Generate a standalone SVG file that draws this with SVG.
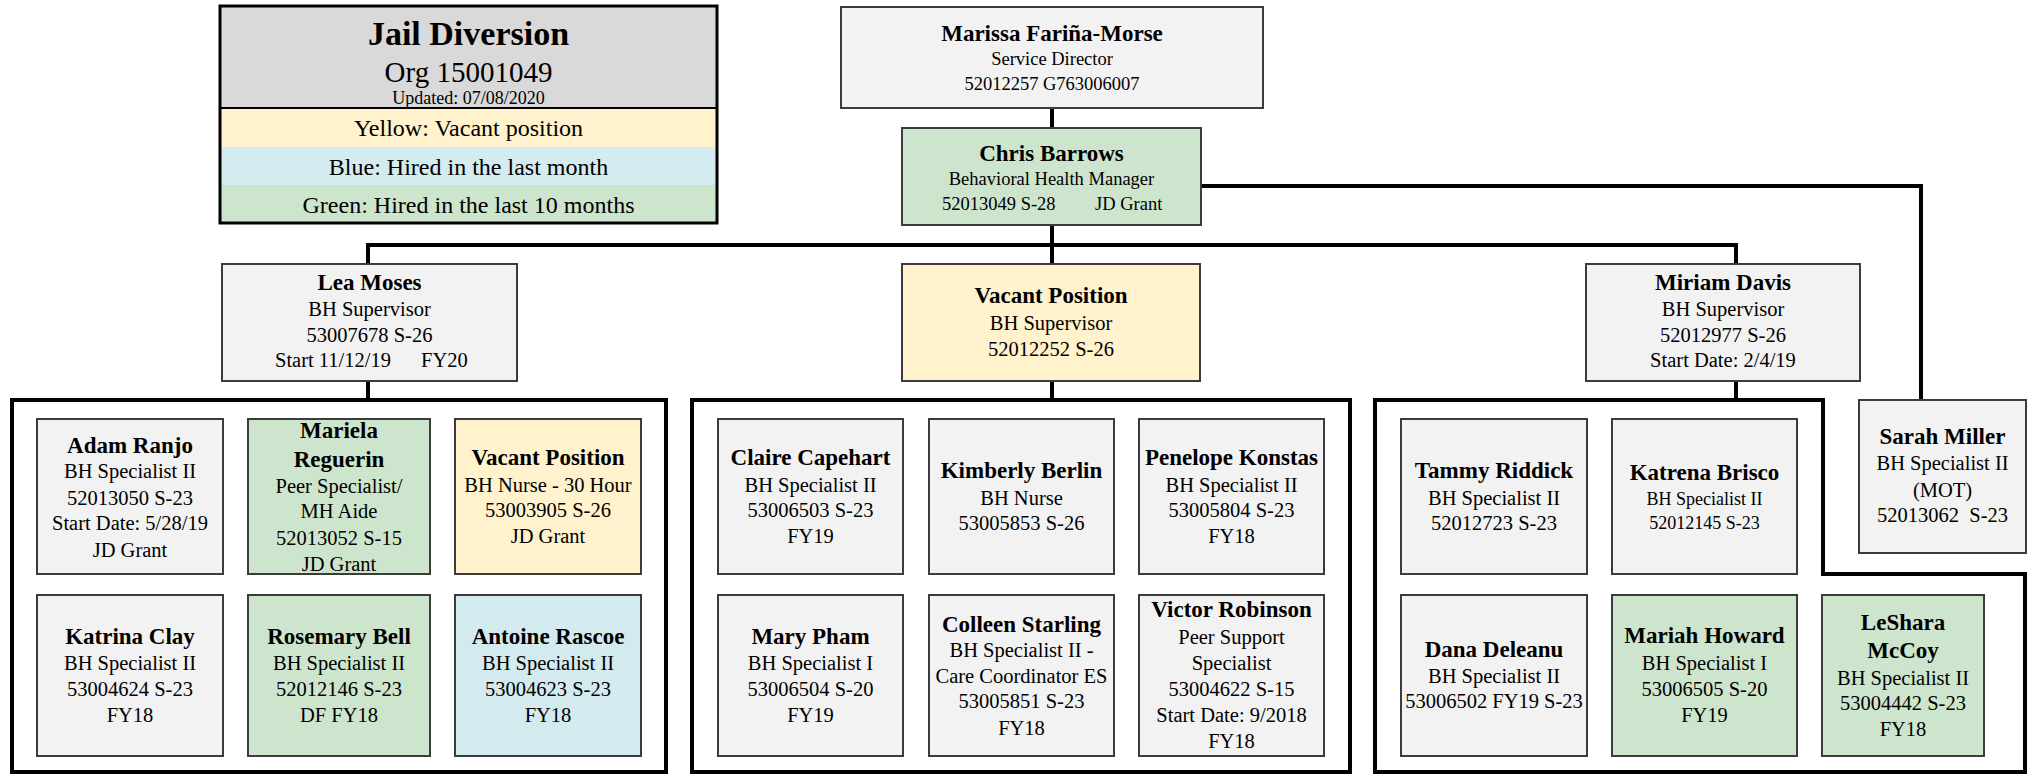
<svg xmlns="http://www.w3.org/2000/svg" width="2030" height="775" viewBox="0 0 2030 775">
<style>
text{font-family:"Liberation Serif","Times New Roman",serif;fill:#000;text-anchor:middle}
.n{font-weight:bold;font-size:23px}
.t{font-size:20.5px}
.s{font-size:18.5px}
.st{text-anchor:start}
.box{stroke:#3c3c3c;stroke-width:2}
.gray{fill:#f2f2f2}.green{fill:#cde5cc}.yellow{fill:#fff2cc}.blue{fill:#d3eaee}
.grp{fill:none;stroke:#000;stroke-width:4}
.conn{fill:none;stroke:#000;stroke-width:4}
</style>
<rect width="2030" height="775" fill="#fff"/>

<g id="legend">
<rect x="220" y="6" width="497" height="102" fill="#d9d9d9"/>
<rect x="220" y="108" width="497" height="39" fill="#fff2cc"/>
<rect x="220" y="147" width="497" height="38" fill="#d4ebef"/>
<rect x="220" y="185" width="497" height="38" fill="#cde5cc"/>
<line x1="220" y1="108" x2="717" y2="108" stroke="#000" stroke-width="2"/>
<rect x="220" y="6" width="497" height="217" fill="none" stroke="#000" stroke-width="3"/>
<text x="468.5" y="45" style="font-weight:bold;font-size:34px">Jail Diversion</text>
<text x="468.5" y="82" style="font-size:29px">Org 15001049</text>
<text x="468.5" y="104" style="font-size:18px">Updated: 07/08/2020</text>
<text x="468.5" y="136" style="font-size:24px">Yellow: Vacant position</text>
<text x="468.5" y="175" style="font-size:24px">Blue: Hired in the last month</text>
<text x="468.5" y="213" style="font-size:24px">Green: Hired in the last 10 months</text>
</g>

<g id="connectors">
<path class="conn" d="M1052 108V128"/>
<path class="conn" d="M1052 225V245"/>
<path class="conn" d="M368 264V245H1736V264"/>
<path class="conn" d="M1052 245V264"/>
<path class="conn" d="M1201 186H1921V400"/>
<path class="conn" d="M368 381V400"/>
<path class="conn" d="M1052 381V400"/>
<path class="conn" d="M1736 381V400"/>
<rect class="grp" x="12" y="400" width="654" height="372"/>
<rect class="grp" x="692" y="400" width="658" height="372"/>
<path class="grp" d="M1375 400H1823V574H2025V772H1375Z"/>
</g>

<g id="marissa">
<rect class="box gray" x="841" y="7" width="422" height="101"/>
<text class="n" x="1052" y="41">Marissa Fariña-Morse</text>
<text class="s" x="1052" y="65">Service Director</text>
<text class="s" x="1052" y="90">52012257 G763006007</text>
</g>

<g id="chris">
<rect class="box green" x="902" y="128" width="299" height="97"/>
<text class="n" x="1051.5" y="161">Chris Barrows</text>
<text class="s" x="1051.5" y="185">Behavioral Health Manager</text>
<text class="s st" x="942" y="210">52013049 S-28</text>
<text class="s st" x="1095" y="210">JD Grant</text>
</g>

<g id="lea">
<rect class="box gray" x="222" y="264" width="295" height="117"/>
<text class="n" x="369.5" y="290">Lea Moses</text>
<text class="t" x="369.5" y="316">BH Supervisor</text>
<text class="t" x="369.5" y="342">53007678 S-26</text>
<text class="t st" x="275" y="367">Start 11/12/19</text>
<text class="t st" x="421" y="367">FY20</text>
</g>

<g id="vacant-supervisor">
<rect class="box yellow" x="902" y="264" width="298" height="117"/>
<text class="n" x="1051" y="303">Vacant Position</text>
<text class="t" x="1051" y="330">BH Supervisor</text>
<text class="t" x="1051" y="356">52012252 S-26</text>
</g>

<g id="miriam">
<rect class="box gray" x="1586" y="264" width="274" height="117"/>
<text class="n" x="1723" y="290">Miriam Davis</text>
<text class="t" x="1723" y="316">BH Supervisor</text>
<text class="t" x="1723" y="342">52012977 S-26</text>
<text class="t" x="1723" y="367">Start Date: 2/4/19</text>
</g>

<g id="sarah">
<rect class="box gray" x="1859" y="400" width="167" height="153"/>
<text class="n" x="1942.5" y="444">Sarah Miller</text>
<text class="t" x="1942.5" y="470">BH Specialist II</text>
<text class="t" x="1942.5" y="497">(MOT)</text>
<text class="t" x="1942.5" y="522">52013062&#160; S-23</text>
</g>

<g id="adam">
<rect class="box gray" x="37" y="419" width="186" height="155"/>
<text class="n" x="130" y="453">Adam Ranjo</text>
<text class="t" x="130" y="478">BH Specialist II</text>
<text class="t" x="130" y="505">52013050 S-23</text>
<text class="t" x="130" y="530">Start Date: 5/28/19</text>
<text class="t" x="130" y="557">JD Grant</text>
</g>

<g id="mariela">
<rect class="box green" x="248" y="419" width="182" height="155"/>
<text class="n" x="339" y="438">Mariela</text>
<text class="n" x="339" y="467">Reguerin</text>
<text class="t" x="339" y="493">Peer Specialist/</text>
<text class="t" x="339" y="518">MH Aide</text>
<text class="t" x="339" y="545">52013052 S-15</text>
<text class="t" x="339" y="571">JD Grant</text>
</g>

<g id="vacant-nurse">
<rect class="box yellow" x="455" y="419" width="186" height="155"/>
<text class="n" x="548" y="465">Vacant Position</text>
<text class="t" x="548" y="492">BH Nurse - 30 Hour</text>
<text class="t" x="548" y="517">53003905 S-26</text>
<text class="t" x="548" y="543">JD Grant</text>
</g>

<g id="katrina">
<rect class="box gray" x="37" y="595" width="186" height="161"/>
<text class="n" x="130" y="644">Katrina Clay</text>
<text class="t" x="130" y="670">BH Specialist II</text>
<text class="t" x="130" y="696">53004624 S-23</text>
<text class="t" x="130" y="722">FY18</text>
</g>

<g id="rosemary">
<rect class="box green" x="248" y="595" width="182" height="161"/>
<text class="n" x="339" y="644">Rosemary Bell</text>
<text class="t" x="339" y="670">BH Specialist II</text>
<text class="t" x="339" y="696">52012146 S-23</text>
<text class="t" x="339" y="722">DF FY18</text>
</g>

<g id="antoine">
<rect class="box blue" x="455" y="595" width="186" height="161"/>
<text class="n" x="548" y="644">Antoine Rascoe</text>
<text class="t" x="548" y="670">BH Specialist II</text>
<text class="t" x="548" y="696">53004623 S-23</text>
<text class="t" x="548" y="722">FY18</text>
</g>

<g id="claire">
<rect class="box gray" x="718" y="419" width="185" height="155"/>
<text class="n" x="810.5" y="465">Claire Capehart</text>
<text class="t" x="810.5" y="492">BH Specialist II</text>
<text class="t" x="810.5" y="517">53006503 S-23</text>
<text class="t" x="810.5" y="543">FY19</text>
</g>

<g id="kimberly">
<rect class="box gray" x="929" y="419" width="185" height="155"/>
<text class="n" x="1021.5" y="478">Kimberly Berlin</text>
<text class="t" x="1021.5" y="505">BH Nurse</text>
<text class="t" x="1021.5" y="530">53005853 S-26</text>
</g>

<g id="penelope">
<rect class="box gray" x="1139" y="419" width="185" height="155"/>
<text class="n" x="1231.5" y="465">Penelope Konstas</text>
<text class="t" x="1231.5" y="492">BH Specialist II</text>
<text class="t" x="1231.5" y="517">53005804 S-23</text>
<text class="t" x="1231.5" y="543">FY18</text>
</g>

<g id="mary">
<rect class="box gray" x="718" y="595" width="185" height="161"/>
<text class="n" x="810.5" y="644">Mary Pham</text>
<text class="t" x="810.5" y="670">BH Specialist I</text>
<text class="t" x="810.5" y="696">53006504 S-20</text>
<text class="t" x="810.5" y="722">FY19</text>
</g>

<g id="colleen">
<rect class="box gray" x="929" y="595" width="185" height="161"/>
<text class="n" x="1021.5" y="632">Colleen Starling</text>
<text class="t" x="1021.5" y="657">BH Specialist II -</text>
<text class="t" x="1021.5" y="683">Care Coordinator ES</text>
<text class="t" x="1021.5" y="708">53005851 S-23</text>
<text class="t" x="1021.5" y="735">FY18</text>
</g>

<g id="victor">
<rect class="box gray" x="1139" y="595" width="185" height="161"/>
<text class="n" x="1231.5" y="617">Victor Robinson</text>
<text class="t" x="1231.5" y="644">Peer Support</text>
<text class="t" x="1231.5" y="670">Specialist</text>
<text class="t" x="1231.5" y="696">53004622 S-15</text>
<text class="t" x="1231.5" y="722">Start Date: 9/2018</text>
<text class="t" x="1231.5" y="748">FY18</text>
</g>

<g id="tammy">
<rect class="box gray" x="1401" y="419" width="186" height="155"/>
<text class="n" x="1494" y="478">Tammy Riddick</text>
<text class="t" x="1494" y="505">BH Specialist II</text>
<text class="t" x="1494" y="530">52012723 S-23</text>
</g>

<g id="katrena">
<rect class="box gray" x="1612" y="419" width="185" height="155"/>
<text class="n" x="1704.5" y="480">Katrena Brisco</text>
<text x="1704.5" y="505" style="font-size:18px">BH Specialist II</text>
<text x="1704.5" y="529" style="font-size:18px">52012145 S-23</text>
</g>

<g id="dana">
<rect class="box gray" x="1401" y="595" width="186" height="161"/>
<text class="n" x="1494" y="657">Dana Deleanu</text>
<text class="t" x="1494" y="683">BH Specialist II</text>
<text class="t" x="1494" y="708">53006502 FY19 S-23</text>
</g>

<g id="mariah">
<rect class="box green" x="1612" y="595" width="185" height="161"/>
<text class="n" x="1704.5" y="643">Mariah Howard</text>
<text class="t" x="1704.5" y="670">BH Specialist I</text>
<text class="t" x="1704.5" y="696">53006505 S-20</text>
<text class="t" x="1704.5" y="722">FY19</text>
</g>

<g id="leshara">
<rect class="box green" x="1822" y="595" width="162" height="161"/>
<text class="n" x="1903" y="630">LeShara</text>
<text class="n" x="1903" y="658">McCoy</text>
<text class="t" x="1903" y="685">BH Specialist II</text>
<text class="t" x="1903" y="710">53004442 S-23</text>
<text class="t" x="1903" y="736">FY18</text>
</g>
</svg>
